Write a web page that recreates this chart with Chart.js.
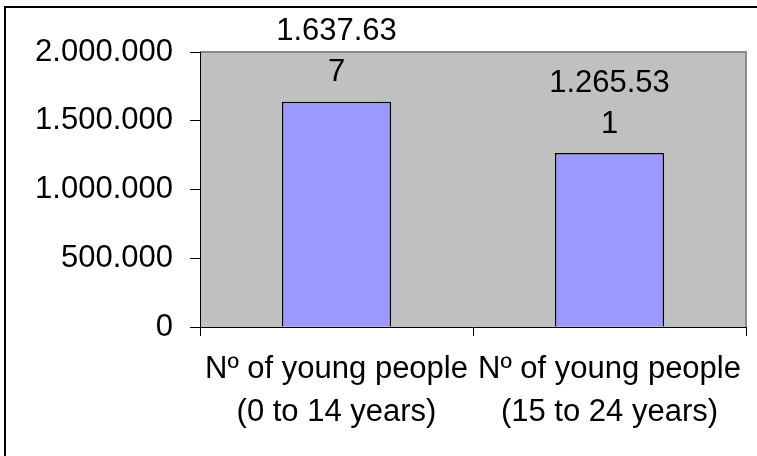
<!DOCTYPE html>
<html>
<head>
<meta charset="utf-8">
<script src="https://cdn.jsdelivr.net/npm/chart.js@4/dist/chart.umd.min.js"></script>
<style>
  html, body { margin: 0; padding: 0; background: #ffffff; }
  #wrap { width: 757px; height: 456px; position: relative; }
</style>
</head>
<body>
<div id="wrap"><canvas id="c" width="757" height="456"></canvas></div>
<script>
const categories = [
  ["Nº of young people", "(0 to 14 years)"],
  ["Nº of young people", "(15 to 24 years)"]
];
const youngPeople = [1637637, 1265531];
const yTickValues = [0, 500000, 1000000, 1500000, 2000000];

const FONT = "'Liberation Sans', Arial, sans-serif";
const FSIZE = 31;

function fmt(v) {
  return String(Math.round(v)).replace(/\B(?=(\d{3})+(?!\d))/g, ".");
}

const framePlugin = {
  id: 'frame',
  beforeDraw(chart) {
    const ctx = chart.ctx;
    const a = chart.chartArea;
    ctx.save();
    ctx.fillStyle = '#ffffff';
    ctx.fillRect(0, 0, chart.width, chart.height);
    ctx.strokeStyle = '#000000';
    ctx.lineWidth = 2;
    ctx.beginPath();
    ctx.moveTo(5, chart.height);
    ctx.lineTo(5, 7);
    ctx.lineTo(chart.width, 7);
    ctx.stroke();
    ctx.fillStyle = '#C0C0C0';
    ctx.fillRect(a.left, a.top, a.right - a.left, a.bottom - a.top);
    ctx.strokeStyle = '#8a8a8a';
    ctx.lineWidth = 2;
    ctx.beginPath();
    ctx.moveTo(a.left, a.top);
    ctx.lineTo(a.right, a.top);
    ctx.lineTo(a.right, a.bottom);
    ctx.stroke();
    ctx.restore();
  },
  afterDatasetsDraw(chart) {
    const ctx = chart.ctx;
    const meta = chart.getDatasetMeta(0);
    ctx.save();
    ctx.fillStyle = '#000000';
    ctx.font = FSIZE + 'px ' + FONT;
    ctx.textAlign = 'center';
    ctx.textBaseline = 'middle';
    meta.data.forEach((bar, i) => {
      const s = fmt(chart.data.datasets[0].data[i]);
      const l1 = s.slice(0, 8), l2 = s.slice(8);
      ctx.fillText(l2, bar.x, bar.y - 29);
      ctx.fillText(l1, bar.x, bar.y - 70);
    });
    ctx.restore();
  }
};

new Chart(document.getElementById('c'), {
  type: 'bar',
  data: {
    labels: categories,
    datasets: [{
      data: youngPeople,
      backgroundColor: '#9999FF',
      borderColor: '#000000',
      borderWidth: 1.5,
      categoryPercentage: 1.0,
      barPercentage: 0.4
    }]
  },
  options: {
    responsive: false,
    animation: false,
    devicePixelRatio: 1,
    layout: { padding: { left: 0, top: 52, right: 11, bottom: 0 } },
    plugins: { legend: { display: false }, tooltip: { enabled: false } },
    scales: {
      x: {
        offset: true,
        grid: { offset: true, drawOnChartArea: false, drawTicks: true, tickLength: 9, color: '#000000' },
        border: { display: true, color: '#000000', width: 1 },
        ticks: {
          color: '#000000',
          font: { size: FSIZE, family: FONT, lineHeight: 1.38 },
          padding: 12,
          maxRotation: 0,
          autoSkip: false
        },
        afterFit(scale) { scale.height = 129; }
      },
      y: {
        min: 0,
        max: 2000000,
        afterBuildTicks(scale) { scale.ticks = yTickValues.map(v => ({ value: v })); },
        grid: { drawOnChartArea: false, drawTicks: true, tickLength: 10, color: '#000000' },
        border: { display: true, color: '#000000', width: 1 },
        ticks: {
          color: '#000000',
          font: { size: FSIZE, family: FONT },
          padding: 17,
          callback: (v) => fmt(v)
        },
        afterFit(scale) { scale.width = 200; }
      }
    }
  },
  plugins: [framePlugin]
});
</script>
</body>
</html>
